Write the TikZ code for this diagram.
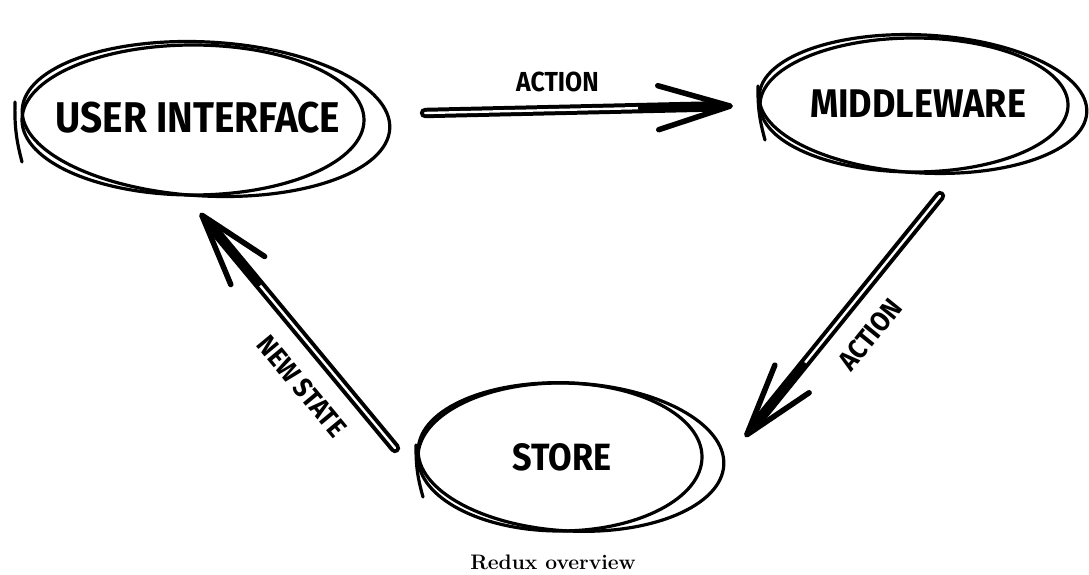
\documentclass[tikz,border=0pt]{standalone}
\usepackage{fontspec}
\usepackage{tikz}
\usetikzlibrary{arrows.meta,calc,positioning}
\newfontfamily\sketchfont{Fira Sans}[FakeStretch=0.9]
\tikzstyle{word} = [inner sep=0pt, font=\sketchfont\bfseries]
\tikzstyle{ring} = [line width=3.2pt, line cap=round]
\tikzstyle{shaft} = [line width=4pt, double distance=2.4pt, line cap=round, shorten >=12pt]
\tikzstyle{head} = [line width=5.5pt, line cap=round, -{Straight Barb[length=72pt,width=44pt,round]}]
\tikzstyle{tag} = [inner sep=0pt, font=\sketchfont\bfseries\fontsize{27.5}{27.5}\selectfont]

\begin{document}
\begin{tikzpicture}[x=1pt, y=-1pt]
\useasboundingbox (0,0) rectangle (1089,575);

% the three parts, each ringed twice
\node[word, font=\sketchfont\bfseries\fontsize{43}{43}\selectfont] (ui) at (198,118) {USER INTERFACE};
\draw[ring] ([shift={(-5,2)}]ui.center) ellipse [x radius=171pt, y radius=75pt];
\draw[ring] ([shift={(8,1)}]ui.center) ellipse [x radius=184pt, y radius=77pt, rotate=-3];
\draw[ring] ([shift={(-183,-16)}]ui.center) to[bend right=8] ([shift={(-176,44)}]ui.center);

\node[word, font=\sketchfont\bfseries\fontsize{40}{40}\selectfont] (mw) at (918,104) {MIDDLEWARE};
\draw[ring] ([shift={(-4,1)}]mw.center) ellipse [x radius=154pt, y radius=67pt];
\draw[ring] ([shift={(5,0)}]mw.center) ellipse [x radius=164pt, y radius=69pt, rotate=-3];
\draw[ring] ([shift={(-160,-18)}]mw.center) to[bend right=8] ([shift={(-153,36)}]mw.center);

\node[word, font=\sketchfont\bfseries\fontsize{38}{38}\selectfont] (st) at (562,457) {STORE};
\draw[ring] ([shift={(-2,0)}]st.center) ellipse [x radius=142pt, y radius=74pt];
\draw[ring] ([shift={(9,0)}]st.center) ellipse [x radius=153pt, y radius=74pt, rotate=-3];
\draw[ring] ([shift={(-146,-12)}]st.center) to[bend right=8] ([shift={(-139,40)}]st.center);

% arrow ends
\coordinate (t1) at ([shift={(227,-5)}]ui.center);
\coordinate (t2) at ([shift={(-185,2)}]mw.center);
\coordinate (r1) at ([shift={(22,92)}]mw.center);
\coordinate (r2) at ([shift={(183,-20)}]st.center);
\coordinate (l1) at ([shift={(-167,-9)}]st.center);
\coordinate (l2) at ([shift={(2,95)}]ui.center);

\draw[shaft] (t1) -- node[tag, pos=0.43, above=16pt] {ACTION} (t2);
\draw[head] ($(t1)!0.7!(t2)$) -- (t2);
\draw[shaft] (r1) -- node[tag, sloped, pos=0.49, below=21pt] {ACTION} (r2);
\draw[head] ($(r1)!0.7!(r2)$) -- (r2);
\draw[shaft] (l1) -- node[tag, sloped, pos=0.35, below=20pt] {NEW STATE} (l2);
\draw[head] ($(l1)!0.7!(l2)$) -- (l2);

\node[font=\bfseries\fontsize{21}{21}\selectfont] (cap) at (553,562) {Redux overview};
\end{tikzpicture}
\end{document}
